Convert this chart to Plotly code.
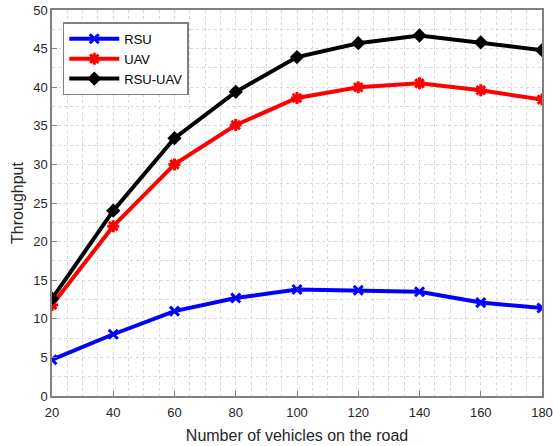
import plotly.graph_objects as go

vehicles = [20, 40, 60, 80, 100, 120, 140, 160, 180]
rsu = [4.7, 8.0, 11.0, 12.7, 13.8, 13.7, 13.5, 12.1, 11.4]
uav = [11.8, 22.0, 30.0, 35.1, 38.6, 40.0, 40.5, 39.6, 38.4]
rsu_uav = [12.6, 24.0, 33.4, 39.4, 43.9, 45.7, 46.7, 45.8, 44.8]

fig = go.Figure()
fig.add_trace(go.Scatter(x=vehicles, y=rsu, name="RSU", mode="lines+markers",
                         line=dict(color="#0000ff", width=4),
                         marker=dict(symbol="x-thin", size=9, line=dict(color="#0000ff", width=3))))
fig.add_trace(go.Scatter(x=vehicles, y=uav, name="UAV", mode="lines+markers",
                         line=dict(color="#ff0000", width=4),
                         marker=dict(symbol="asterisk", size=10, line=dict(color="#ff0000", width=3))))
fig.add_trace(go.Scatter(x=vehicles, y=rsu_uav, name="RSU-UAV", mode="lines+markers",
                         line=dict(color="#000000", width=4),
                         marker=dict(symbol="diamond", size=11, color="#000000")))

grid_col = "#d9d9d9"
fig.update_layout(
    width=553, height=446,
    margin=dict(l=52, r=11, t=10, b=50, autoexpand=False),
    paper_bgcolor="white", plot_bgcolor="white",
    font=dict(family="Liberation Sans, Arial", size=13, color="#262626"),
    showlegend=True,
    legend=dict(x=0.022, y=0.968, xanchor="left", yanchor="top",
                bgcolor="white", bordercolor="#808080", borderwidth=1.5,
                font=dict(size=13, color="#000000"), tracegroupgap=0,
                itemwidth=50),
    xaxis=dict(range=[20, 180], tickvals=vehicles, ticktext=[str(v) for v in vehicles],
               title=dict(text="Number of vehicles on the road", standoff=10, font=dict(size=16)),
               automargin=False, ticklabeloverflow="allow",
               showline=True, linecolor="#808080", linewidth=1.5, mirror=True,
               ticks="inside", ticklen=5, tickcolor="#808080",
               ticklabelstandoff=4,
               showgrid=True, gridcolor=grid_col, griddash="dot", gridwidth=1,
               minor=dict(dtick=5, showgrid=True, gridcolor=grid_col, griddash="dot", gridwidth=1),
               zeroline=False, tickfont=dict(size=13, color="#262626")),
    yaxis=dict(range=[0, 50], dtick=5,
               title=dict(text="Throughput", standoff=6, font=dict(size=16)),
               automargin=False, ticklabeloverflow="allow",
               showline=True, linecolor="#808080", linewidth=1.5, mirror=True,
               ticks="inside", ticklen=5, tickcolor="#808080",
               showgrid=True, gridcolor=grid_col, griddash="dot", gridwidth=1,
               minor=dict(dtick=2.5, showgrid=True, gridcolor=grid_col, griddash="dot", gridwidth=1),
               zeroline=False, tickfont=dict(size=13, color="#262626")),
)

# remove the default 8px body margin so the figure sits at the window's top-left corner
fig.write_html("out.html", config={"displayModeBar": False},
               post_script="document.body.style.margin='0px';")
